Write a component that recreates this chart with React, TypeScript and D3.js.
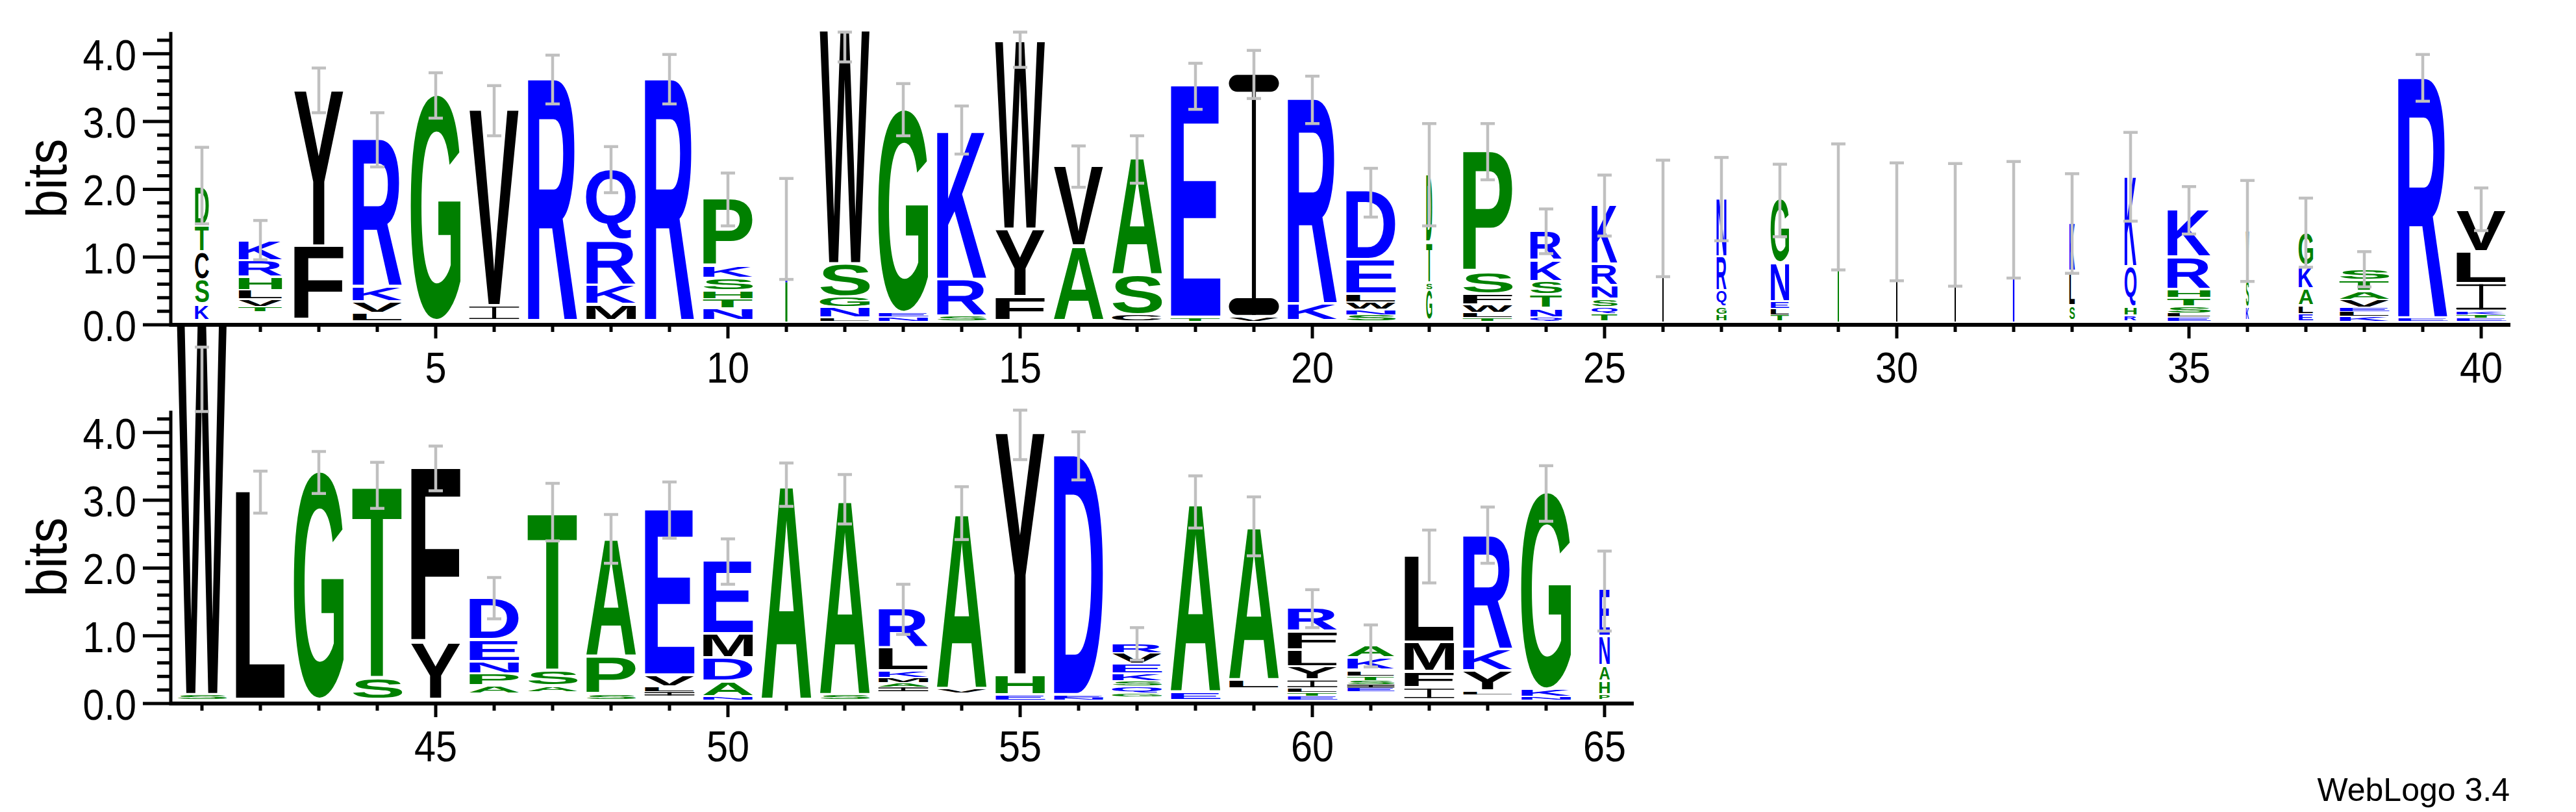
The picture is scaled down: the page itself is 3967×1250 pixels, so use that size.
import React, { useMemo } from 'react';
import * as d3 from 'd3';

// ---------- data ----------
const positions: number[] = d3.range(1, 66);

// stack width as fraction of a full column (gap-scaled widths)
const widthFrac: number[] = [
  0.28, 0.88, 1, 1, 1, 1, 1, 1, 1, 1,
  0.04, 1, 1, 1, 1, 1, 1, 1, 1, 1,
  1, 0.12, 1, 0.64, 0.52, 0.02, 0.2, 0.37, 0.02, 0.02,
  0.02, 0.03, 0.11, 0.24, 0.87, 0.06, 0.29, 1, 1, 1,
  1, 1, 1, 1, 1, 1, 1, 1, 1, 1,
  1, 1, 1, 1, 1, 1, 1, 1, 1, 1,
  0.95, 1, 1, 1, 0.21,
];

// letters bottom -> top, "letter:bits[:colourOverride]"; "." = empty space
const stacks: string[] = [
  'K:.24 S:.36 C:.42 T:.38 D:.58:g',
  '.:.14 T:.07 V:.105 L:.13 H:.2 R:.24 K:.3',
  'F:1.1 Y:2.3',
  'L:.115 V:.16 K:.23 R:2.18',
  'G:3.34',
  'I:.22 V:2.9',
  'R:3.57',
  'M:.24 K:.29 R:.65 Q:1.05',
  'R:3.57',
  'N:.18 T:.14 H:.115 S:.19 K:.18 P:1.0',
  'S:.58 K:.78',
  'L:.05 N:.15 G:.15 S:.49 W:3.45',
  'N:.06 E:.06 G:3.0',
  'S:.07 R:.54 K:2.21',
  'F:.35 Y:1.0 W:2.78',
  'A:1.1 V:1.18',
  'C:.09 S:.58 A:1.74',
  'T:.05 E:3.43',
  'V:.06 I:3.58',
  'K:.25 R:3.03',
  'S:.09 N:.08 W:.1 L:.12 E:.51 D:1.02',
  'G:.46 S:.1 T:.6 D:1.0:g',
  'T:.05 L:.07 W:.115 F:.15 S:.33 P:1.79',
  'Q:.05 N:.13 T:.2 S:.2 K:.31 R:.43',
  'T:.105 Q:.1 S:.11 N:.2 R:.32 K:.89',
  'L:1.52',
  'H:.09 G:.11 Q:.24 R:.5 N:.87',
  'T:.09 L:.09 E:.1 N:.57 G:.95',
  'G:1.7',
  'L:1.49',
  'I:1.43',
  'K:1.51',
  'S:.22 L:.51 K:.72',
  'R:.08 H:.12 Q:.6 K:1.35',
  'E:.06 L:.06 S:.09 T:.13 H:.125 R:.47 K:.71',
  'K:.2 S:.4 V:.72',
  'E:.1 L:.12 A:.25 K:.34 G:.49',
  'K:.07 L:.07 E:.06 V:.115 A:.125 T:.16 S:.16',
  'E:.04 R:3.55',
  'E:.05 T:.05 K:.04 I:.41 L:.47 V:.62',
  'S:.07 W:5.49',
  'L:3.08',
  'G:3.37',
  'S:.32 T:2.85',
  'Y:.83 F:2.59',
  '.:.09 A:.11 P:.18 N:.18 E:.32 D:.62',
  '.:.12 A:.08 S:.23 T:2.34',
  'S:.08 P:.55 A:1.75',
  '.:.06 I:.06 L:.07 V:.17 E:2.45',
  'N:.04 A:.23 D:.34 M:.36 E:1.08',
  'A:3.18',
  'S:.07 A:2.89',
  '.:.12 I:.07 A:.06 M:.08 K:.09 L:.35 R:.58',
  '.:.1 V:.06 A:2.6',
  'E:.07 H:.29 Y:3.58',
  'N:.035 E:.035 D:3.54',
  '.:.05 G:.05 Q:.1 S:.08 K:.11 E:.13 V:.16 R:.14',
  'E:.11 A:2.8',
  '.:.17 L:.12 A:2.27',
  'E:.06 T:.05 L:.06 I:.12 Y:.19 L:.25 F:.28 R:.35',
  '.:.12 E:.06 I:.05 S:.06 T:.06 L:.08 K:.185 A:.185',
  'I:.17 F:.24 M:.43 L:1.28',
  '.:.08 L:.04 Y:.3 K:.32 R:1.68',
  'N:.05 K:.1 G:2.91',
  'P:.07 H:.2 A:.23 N:.43 E:.7',
];

const errLow: number[] = [
  1.49, 0.96, 3.13, 2.33, 3.05, 2.79, 3.26, 1.95, 3.26, 1.46,
  0.67, 3.88, 2.79, 2.52, 3.80, 2.03, 2.09, 3.18, 3.34, 2.97,
  1.59, 1.46, 2.14, 1.05, 1.31, 0.71, 1.24, 1.30, 0.81, 0.65,
  0.57, 0.69, 0.76, 1.53, 1.34, 0.64, 0.85, 0.56, 3.30, 1.39,
  4.31, 2.81, 3.10, 2.88, 3.14, 1.25, 2.40, 2.07, 2.44, 1.76,
  2.91, 2.65, 1.02, 2.42, 3.60, 3.30, 0.64, 2.59, 2.18, 1.12,
  0.54, 1.78, 2.07, 2.69, 1.07,
];
const errHigh: number[] = [
  2.62, 1.54, 3.79, 3.13, 3.72, 3.53, 3.98, 2.63, 3.99, 2.24,
  2.16, 4.32, 3.56, 3.23, 4.32, 2.64, 2.79, 3.86, 4.05, 3.67,
  2.31, 2.97, 2.97, 1.71, 2.21, 2.43, 2.47, 2.37, 2.67, 2.39,
  2.38, 2.41, 2.23, 2.84, 2.04, 2.13, 1.87, 1.08, 3.99, 2.02,
  5.26, 3.43, 3.72, 3.56, 3.80, 1.86, 3.25, 2.79, 3.27, 2.43,
  3.55, 3.38, 1.76, 3.20, 4.33, 4.01, 1.12, 3.36, 3.05, 1.68,
  1.16, 2.56, 2.90, 3.51, 2.25,
];

const yTicks: number[] = [0, 1, 2, 3, 4];
const rowRanges: [number, number][] = [[1, 40], [41, 65]];
const yLabel = 'bits';
const footer = 'WebLogo 3.4';

// ---------- styling ----------
const LOGO_FONT = "'Liberation Sans', Arial, Helvetica, sans-serif";
const BLUE = '#0000ff';
const GREEN = '#008000';
const BLACK = '#000000';
const colourOf = (l: string, o?: string) => {
  if (o === 'g') return GREEN;
  if ('RKDENQ'.includes(l)) return BLUE;
  if ('SGHTAP'.includes(l)) return GREEN;
  return BLACK;
};

const BIT = 104.3;
const ROW_Y0 = [500, 1083];
const X0 = 266;
const COL = 90;
const FULLW = 77;
const YMAX = Math.log2(20);

let ctx: CanvasRenderingContext2D | null = null;
const inkCache: Record<string, { l: number; r: number; a: number; d: number }> = {};
function ink(ch: string) {
  if (inkCache[ch]) return inkCache[ch];
  if (!ctx) ctx = document.createElement('canvas').getContext('2d');
  let res = { l: 0, r: 72, a: 71.6, d: 0 };
  if (ctx) {
    ctx.font = `bold 100px ${LOGO_FONT}`;
    const m = ctx.measureText(ch);
    if (m.actualBoundingBoxAscent !== undefined) {
      res = { l: m.actualBoundingBoxLeft, r: m.actualBoundingBoxRight, a: m.actualBoundingBoxAscent, d: m.actualBoundingBoxDescent };
    }
  }
  inkCache[ch] = res;
  return res;
}

function Glyph({ ch, x, y, w, h, fill }: { ch: string; x: number; y: number; w: number; h: number; fill: string }) {
  if (h <= 0.2 || w <= 0) return null;
  if (w < 4) {
    const ww = Math.max(w, 2);
    return <rect x={x + w / 2 - ww / 2} y={y} width={ww} height={h} fill={fill} />;
  }
  if (ch === 'I') {
    const slab = Math.max(1.5, h * 0.07);
    const stem = Math.max(Math.min(w, 1.5), w * 0.08);
    return (
      <g fill={fill}>
        <rect x={x} y={y} width={w} height={slab} rx={Math.min(slab / 2, w / 2)} />
        <rect x={x + w / 2 - stem / 2} y={y} width={stem} height={h} />
        <rect x={x} y={y + h - slab} width={w} height={slab} rx={Math.min(slab / 2, w / 2)} />
      </g>
    );
  }
  const m = ink(ch);
  const sx = w / (m.l + m.r);
  const sy = h / (m.a + m.d);
  return (
    <text
      transform={`translate(${x + m.l * sx},${y + m.a * sy}) scale(${sx},${sy})`}
      fontFamily={LOGO_FONT}
      fontWeight="bold"
      fontSize={100}
      fill={fill}
    >
      {ch}
    </text>
  );
}

export default function App() {
  const content = useMemo(() => {
    const out: React.ReactNode[] = [];
    rowRanges.forEach(([start, end], ri) => {
      const y0 = ROW_Y0[ri];
      const n = end - start + 1;
      const xs = d3.scaleLinear().domain([start - 0.5, end + 0.5]).range([X0, X0 + COL * n]);
      const ys = d3.scaleLinear().domain([0, YMAX]).range([y0, y0 - YMAX * BIT]);
      const base = y0 - 5;
      const rowPos = positions.filter((p) => p >= start && p <= end);

      // letters
      rowPos.forEach((p) => {
        const i = p - 1;
        const w = FULLW * widthFrac[i];
        const cx = xs(p);
        let cur = base;
        stacks[i].split(' ').forEach((tok, k) => {
          const [l, hs, o] = tok.split(':');
          const seg = +hs * BIT;
          const top = cur - seg;
          const gap = w < 4 ? 0 : Math.min(4, seg * 0.2);
          if (l !== '.') {
            out.push(
              <Glyph key={`g${p}-${k}`} ch={l} x={cx - w / 2} y={top} w={w} h={seg - gap} fill={colourOf(l, o)} />
            );
          }
          cur = top;
        });
      });

      // axes
      out.push(
        <line key={`ya${ri}`} x1={263} x2={263} y1={y0 + 3} y2={ys(YMAX)} stroke="#000" strokeWidth={5} />,
        <line key={`xa${ri}`} x1={261} x2={X0 + COL * n} y1={y0} y2={y0} stroke="#000" strokeWidth={6} />
      );
      d3.range(0, YMAX + 1e-6, 0.2).forEach((t, k) => {
        const major = Math.abs(t - Math.round(t)) < 1e-6;
        out.push(
          <line key={`yt${ri}-${k}`} x1={major ? 220 : 242} x2={263} y1={ys(t)} y2={ys(t)} stroke="#000" strokeWidth={5} />
        );
      });
      yTicks.forEach((t) => {
        out.push(
          <text key={`yl${ri}-${t}`} transform={`translate(210,${ys(t) + 25}) scale(0.9,1)`} textAnchor="end" fontFamily={LOGO_FONT} fontSize={66} fill="#000">
            {t.toFixed(1)}
          </text>
        );
      });
      out.push(
        <text key={`bits${ri}`} transform={`translate(102,${y0 - (YMAX / 2) * BIT}) rotate(-90) scale(0.89,1)`} textAnchor="middle" fontFamily={LOGO_FONT} fontSize={88} fill="#000">
          {yLabel}
        </text>
      );
      rowPos.forEach((p) => {
        const major = p % 5 === 0;
        out.push(
          <line key={`xt${p}`} x1={xs(p)} x2={xs(p)} y1={y0} y2={y0 + (major ? 21 : 11)} stroke="#000" strokeWidth={5} />
        );
        if (major) {
          out.push(
            <text key={`xl${p}`} transform={`translate(${xs(p)},${y0 + 89}) scale(0.9,1)`} textAnchor="middle" fontFamily={LOGO_FONT} fontSize={66} fill="#000">
              {p}
            </text>
          );
        }
      });

      // error bars
      rowPos.forEach((p) => {
        const i = p - 1;
        const cx = xs(p);
        const yl = ys(errLow[i]);
        const yh = ys(errHigh[i]);
        out.push(
          <g key={`e${p}`} stroke="#c0c0c0" strokeWidth={4.5}>
            <line x1={cx} x2={cx} y1={yl} y2={yh} />
            <line x1={cx - 11} x2={cx + 11} y1={yl} y2={yl} />
            <line x1={cx - 11} x2={cx + 11} y1={yh} y2={yh} />
          </g>
        );
      });
    });
    return out;
  }, []);

  return (
    <svg width={3967} height={1250} viewBox="0 0 3967 1250" style={{ position: 'absolute', left: 0, top: 0, background: '#fff' }}>
      <rect x={0} y={0} width={3967} height={1250} fill="#fff" />
      {content}
      <text x={3865} y={1233} textAnchor="end" fontFamily={LOGO_FONT} fontSize={50} fill="#000">
        {footer}
      </text>
    </svg>
  );
}
